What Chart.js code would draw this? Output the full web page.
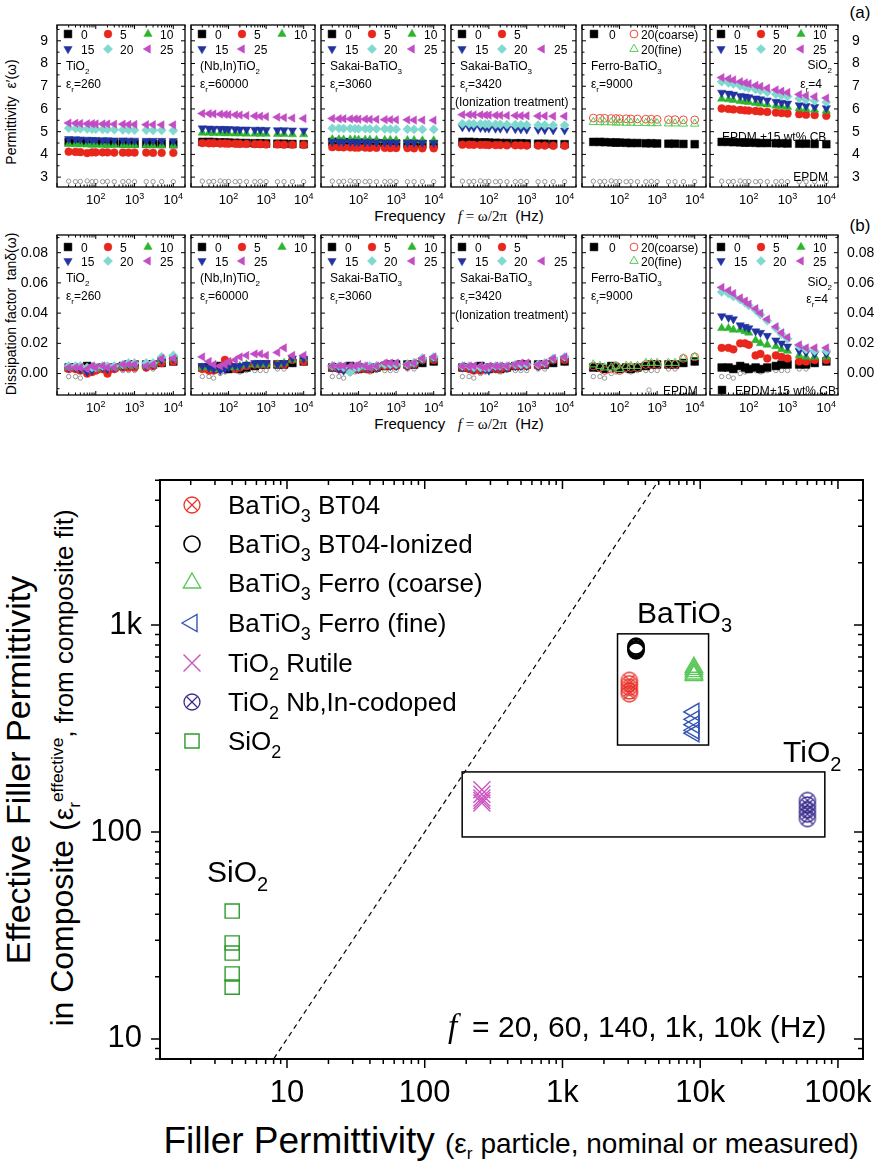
<!DOCTYPE html>
<html>
<head>
<meta charset="utf-8">
<script src="https://cdn.jsdelivr.net/npm/chart.js@4.4.1/dist/chart.umd.min.js"></script>
<style>
  html, body { margin: 0; padding: 0; background: #fff; }
  body { width: 880px; height: 1162px; position: relative; overflow: hidden; font-family: "Liberation Sans", Arial, sans-serif; color: #000; }
  canvas { position: absolute; }
  .lbl { position: absolute; white-space: nowrap; line-height: 1; }
  .rot { transform: translate(-50%, -50%) rotate(-90deg); }
  .ctr { transform: translate(-50%, -50%); }
  .it { font-family: "Liberation Serif", "Times New Roman", serif; font-style: italic; }
  .sr { font-family: "Liberation Serif", "Times New Roman", serif; }
  sub, sup { font-size: 62%; line-height: 0; }
</style>
</head>
<body>
<div class="lbl rot" style="left:11px;top:112px;font-size:14px">Permittivity&nbsp; ε′(ω)</div>
<div class="lbl rot" style="left:11px;top:314px;font-size:14px">Dissipation factor&nbsp; tanδ(ω)</div>
<div class="lbl ctr" style="left:459px;top:216px;font-size:15px">Frequency&nbsp;&nbsp; <span class="it">f</span><span class="sr"> = ω/2π</span>&nbsp;&nbsp;(Hz)</div>
<div class="lbl ctr" style="left:459px;top:424px;font-size:15px">Frequency&nbsp;&nbsp; <span class="it">f</span><span class="sr"> = ω/2π</span>&nbsp;&nbsp;(Hz)</div>
<div class="lbl ctr" style="left:860px;top:12px;font-size:17px">(a)</div>
<div class="lbl ctr" style="left:860px;top:225px;font-size:17px">(b)</div>
<div class="lbl rot" style="left:18px;top:770px;font-size:34px">Effective Filler Permittivity</div>
<div class="lbl rot" style="left:62px;top:768px;font-size:32px">in Composite (<span style="font-size:28px">ε<sub>r</sub><sup>effective</sup></span><span style="font-size:26px">, from composite fit)</span></div>
<div class="lbl ctr" style="left:511px;top:1140px;font-size:37px">Filler Permittivity <span style="font-size:28px">(ε<sub>r</sub> particle, nominal or measured)</span></div>

<script>
// ---------- top panels: frequency sweeps ----------
const freqHz = [20, 30, 40, 60, 80, 100, 150, 200, 300, 500, 700, 1000, 2000, 3000, 5000, 10000];
const freqTicks = [100, 1000, 10000];
const freqTickText = ['10^2', '10^3', '10^4'];
const permTicks = [3, 4, 5, 6, 7, 8, 9];
const lossTicks = [0, 0.02, 0.04, 0.06, 0.08];

// permittivity (a)
const epdmPerm = [2.82, 2.80, 2.81, 2.83, 2.80, 2.81, 2.80, 2.81, 2.80, 2.80, 2.81, 2.80, 2.80, 2.80, 2.80, 2.80];
const cbPerm = [4.55, 4.55, 4.54, 4.53, 4.52, 4.52, 4.51, 4.50, 4.50, 4.49, 4.49, 4.48, 4.47, 4.47, 4.46, 4.45];
const tio2Perm5 = [4.12, 4.11, 4.10, 4.06, 4.09, 4.09, 4.09, 4.09, 4.08, 4.08, 4.08, 4.08, 4.08, 4.07, 4.07, 4.07];
const tio2Perm10 = [4.45, 4.44, 4.44, 4.43, 4.42, 4.42, 4.42, 4.41, 4.41, 4.40, 4.40, 4.40, 4.40, 4.39, 4.39, 4.39];
const tio2Perm15 = [4.68, 4.67, 4.66, 4.65, 4.64, 4.64, 4.63, 4.63, 4.62, 4.62, 4.61, 4.61, 4.60, 4.60, 4.60, 4.59];
const tio2Perm20 = [5.15, 5.14, 5.13, 5.12, 5.11, 5.11, 5.10, 5.10, 5.09, 5.08, 5.08, 5.07, 5.07, 5.06, 5.06, 5.05];
const tio2Perm25 = [5.38, 5.37, 5.36, 5.35, 5.35, 5.34, 5.34, 5.34, 5.33, 5.33, 5.32, 5.32, 5.31, 5.31, 5.30, 5.30];
const nbinPerm5 = [4.50, 4.49, 4.49, 4.48, 4.48, 4.47, 4.47, 4.46, 4.46, 4.45, 4.45, 4.44, 4.44, 4.43, 4.43, 4.42];
const nbinPerm10 = [4.95, 4.95, 4.94, 4.94, 4.93, 4.93, 4.92, 4.92, 4.91, 4.91, 4.90, 4.90, 4.89, 4.89, 4.88, 4.88];
const nbinPerm15 = [5.15, 5.14, 5.13, 5.13, 5.12, 5.12, 5.11, 5.10, 5.10, 5.09, 5.09, 5.08, 5.07, 5.07, 5.06, 5.05];
const nbinPerm25 = [5.80, 5.79, 5.78, 5.77, 5.76, 5.75, 5.74, 5.73, 5.71, 5.69, 5.68, 5.66, 5.64, 5.62, 5.60, 5.58];
const sakaiPerm5 = [4.32, 4.32, 4.31, 4.31, 4.30, 4.30, 4.30, 4.29, 4.29, 4.29, 4.28, 4.28, 4.28, 4.27, 4.27, 4.27];
const sakaiPerm10 = [4.66, 4.66, 4.65, 4.65, 4.65, 4.64, 4.64, 4.64, 4.63, 4.63, 4.63, 4.62, 4.62, 4.62, 4.61, 4.61];
const sakaiPerm15 = [4.56, 4.56, 4.55, 4.55, 4.55, 4.54, 4.54, 4.54, 4.53, 4.53, 4.53, 4.52, 4.52, 4.52, 4.51, 4.51];
const sakaiPerm20 = [5.15, 5.15, 5.14, 5.14, 5.13, 5.13, 5.13, 5.12, 5.12, 5.12, 5.11, 5.11, 5.11, 5.10, 5.10, 5.10];
const sakaiPerm25 = [5.58, 5.57, 5.57, 5.56, 5.56, 5.55, 5.55, 5.54, 5.54, 5.53, 5.53, 5.52, 5.52, 5.51, 5.51, 5.50];
const ionPerm5 = [4.43, 4.43, 4.42, 4.42, 4.42, 4.41, 4.41, 4.41, 4.40, 4.40, 4.40, 4.39, 4.39, 4.39, 4.38, 4.38];
const ionPerm15 = [5.20, 5.19, 5.18, 5.17, 5.16, 5.15, 5.14, 5.14, 5.13, 5.12, 5.11, 5.10, 5.09, 5.08, 5.07, 5.06];
const ionPerm20 = [5.35, 5.35, 5.34, 5.34, 5.33, 5.33, 5.32, 5.32, 5.31, 5.31, 5.30, 5.30, 5.29, 5.29, 5.28, 5.28];
const ionPerm25 = [5.75, 5.75, 5.74, 5.74, 5.73, 5.73, 5.72, 5.72, 5.71, 5.71, 5.70, 5.70, 5.69, 5.69, 5.68, 5.68];
const ferroPermCoarse = [5.60, 5.59, 5.59, 5.58, 5.58, 5.57, 5.57, 5.56, 5.56, 5.55, 5.55, 5.54, 5.53, 5.53, 5.52, 5.52];
const ferroPermFine = [5.42, 5.42, 5.41, 5.41, 5.40, 5.40, 5.39, 5.39, 5.38, 5.38, 5.37, 5.37, 5.36, 5.36, 5.35, 5.35];
const sio2Perm5 = [6.02, 6.00, 5.98, 5.96, 5.94, 5.93, 5.91, 5.89, 5.87, 5.84, 5.82, 5.80, 5.77, 5.75, 5.73, 5.70];
const sio2Perm10 = [6.45, 6.42, 6.39, 6.35, 6.32, 6.30, 6.26, 6.23, 6.19, 6.14, 6.11, 6.08, 6.02, 5.99, 5.96, 5.92];
const sio2Perm15 = [6.72, 6.68, 6.64, 6.58, 6.55, 6.52, 6.47, 6.43, 6.38, 6.32, 6.28, 6.24, 6.17, 6.13, 6.09, 6.04];
const sio2Perm20 = [7.20, 7.15, 7.10, 7.02, 6.97, 6.93, 6.86, 6.81, 6.74, 6.65, 6.60, 6.55, 6.46, 6.41, 6.36, 6.30];
const sio2Perm25 = [7.38, 7.33, 7.28, 7.20, 7.15, 7.11, 7.04, 6.99, 6.92, 6.84, 6.78, 6.73, 6.64, 6.59, 6.54, 6.48];

// dissipation factor (b)
const epdmLoss = [-0.002, -0.002, -0.003, 0.000, 0.001, 0.002, 0.002, 0.001, 0.002, 0.002, 0.002, 0.002, 0.003, 0.003, 0.006, 0.007];
const cbLoss = [0.004, 0.004, 0.003, 0.005, 0.004, 0.003, 0.004, 0.003, 0.004, 0.005, 0.006, 0.006, 0.006, 0.006, 0.007, 0.008];
const tio2Loss5 = [0.003, 0.003, 0.002, 0.000, 0.001, 0.002, 0.003, 0.000, 0.003, 0.004, 0.004, 0.004, 0.004, 0.005, 0.007, 0.008];
const tio2Loss10 = [0.004, 0.004, 0.004, 0.002, 0.003, 0.003, 0.004, 0.004, 0.004, 0.005, 0.005, 0.005, 0.005, 0.006, 0.009, 0.010];
const tio2Loss15 = [0.004, 0.004, 0.003, 0.001, 0.002, 0.004, 0.004, 0.003, 0.004, 0.005, 0.006, 0.006, 0.005, 0.006, 0.009, 0.010];
const tio2Loss20 = [0.005, 0.005, 0.005, 0.004, 0.004, 0.004, 0.005, 0.005, 0.005, 0.006, 0.007, 0.007, 0.007, 0.007, 0.011, 0.012];
const tio2Loss25 = [0.004, 0.004, 0.004, 0.003, 0.005, 0.004, 0.005, 0.004, 0.004, 0.006, 0.006, 0.006, 0.005, 0.006, 0.010, 0.010];
const nbinLoss5 = [0.003, 0.002, 0.002, 0.004, 0.009, 0.007, 0.003, 0.004, 0.005, 0.006, 0.006, 0.006, 0.006, 0.006, 0.009, 0.008];
const nbinLoss10 = [0.004, 0.004, 0.003, 0.003, 0.004, 0.004, 0.004, 0.005, 0.006, 0.006, 0.006, 0.006, 0.006, 0.007, 0.009, 0.010];
const nbinLoss15 = [0.005, 0.004, 0.003, 0.002, 0.003, 0.004, 0.005, 0.005, 0.006, 0.007, 0.007, 0.007, 0.006, 0.007, 0.010, 0.010];
const nbinLoss25 = [0.011, 0.008, 0.006, 0.005, 0.006, 0.008, 0.009, 0.011, 0.012, 0.013, 0.013, 0.012, 0.014, 0.017, 0.012, 0.012];
const sakaiLoss5 = [0.004, 0.003, 0.003, 0.002, 0.003, 0.003, 0.003, 0.003, 0.004, 0.005, 0.005, 0.005, 0.005, 0.006, 0.009, 0.009];
const sakaiLoss10 = [0.005, 0.004, 0.004, 0.004, 0.004, 0.004, 0.004, 0.004, 0.005, 0.006, 0.006, 0.006, 0.006, 0.007, 0.010, 0.010];
const sakaiLoss15 = [0.004, 0.003, 0.002, 0.003, 0.004, 0.003, 0.004, 0.004, 0.004, 0.006, 0.005, 0.005, 0.005, 0.006, 0.009, 0.010];
const sakaiLoss20 = [0.005, 0.005, 0.004, 0.001, 0.004, 0.004, 0.005, 0.005, 0.005, 0.006, 0.006, 0.006, 0.006, 0.007, 0.010, 0.011];
const sakaiLoss25 = [0.005, 0.005, 0.005, 0.005, 0.005, 0.006, 0.005, 0.004, 0.005, 0.007, 0.007, 0.007, 0.006, 0.007, 0.010, 0.011];
const ionLoss5 = [0.004, 0.003, 0.002, 0.002, 0.003, 0.003, 0.003, 0.003, 0.004, 0.005, 0.005, 0.005, 0.005, 0.006, 0.009, 0.009];
const ionLoss15 = [0.004, 0.004, 0.003, 0.003, 0.003, 0.002, 0.004, 0.004, 0.004, 0.005, 0.005, 0.005, 0.005, 0.006, 0.009, 0.010];
const ionLoss20 = [0.005, 0.005, 0.004, 0.004, 0.004, 0.004, 0.005, 0.005, 0.005, 0.006, 0.006, 0.006, 0.006, 0.007, 0.010, 0.011];
const ionLoss25 = [0.005, 0.005, 0.005, 0.005, 0.004, 0.005, 0.005, 0.005, 0.005, 0.006, 0.007, 0.007, 0.006, 0.007, 0.010, 0.011];
const ferroLossCoarse = [0.005, 0.004, 0.002, 0.003, 0.005, 0.002, 0.004, 0.004, 0.004, 0.006, 0.006, 0.006, 0.006, 0.006, 0.010, 0.011];
const ferroLossFine = [0.006, 0.005, 0.004, 0.004, 0.005, 0.003, 0.005, 0.005, 0.005, 0.007, 0.007, 0.007, 0.007, 0.007, 0.010, 0.011];
const sio2Loss5 = [0.017, 0.017, 0.016, 0.020, 0.020, 0.019, 0.012, 0.013, 0.010, 0.012, 0.011, 0.010, 0.008, 0.008, 0.009, 0.009];
const sio2Loss10 = [0.030, 0.030, 0.029, 0.029, 0.028, 0.027, 0.022, 0.020, 0.019, 0.018, 0.016, 0.015, 0.012, 0.011, 0.011, 0.011];
const sio2Loss15 = [0.038, 0.037, 0.036, 0.032, 0.031, 0.030, 0.028, 0.027, 0.025, 0.022, 0.020, 0.018, 0.015, 0.014, 0.013, 0.013];
const sio2Loss20 = [0.054, 0.053, 0.051, 0.049, 0.047, 0.045, 0.042, 0.039, 0.035, 0.030, 0.026, 0.023, 0.018, 0.016, 0.015, 0.015];
const sio2Loss25 = [0.057, 0.055, 0.053, 0.050, 0.048, 0.046, 0.043, 0.040, 0.036, 0.031, 0.027, 0.024, 0.019, 0.017, 0.017, 0.017];

// ---------- bottom panel: effective vs nominal filler permittivity ----------
const materials = ['BaTiO_3 BT04', 'BaTiO_3 BT04-Ionized', 'BaTiO_3 Ferro (coarse)', 'BaTiO_3 Ferro (fine)', 'TiO_2 Rutile', 'TiO_2 Nb,In-codoped', 'SiO_2'];
const fillerEps = [3060, 3420, 9000, 9000, 260, 60000, 4];
const effBT04 = [540, 520, 500, 480, 465];
const effBT04Ion = [790, 780, 770, 760, 750];
const effFerroCoarse = [625, 610, 595, 580, 570];
const effFerroFine = [380, 350, 330, 310, 300];
const effRutile = [160, 152, 146, 142, 138];
const effNbIn = [142, 135, 128, 122, 116];
const effSiO2 = [41.5, 29.1, 26.0, 20.6, 17.8];
const fitFreq = ['20', '60', '140', '1k', '10k'];
const bigXTicks = [10, 100, 1000, 10000, 100000];
const bigXTickText = ['10', '100', '1k', '10k', '100k'];
const bigYTicks = [10, 100, 1000];
const bigYTickText = ['10', '100', '1k'];
const parityLine = [1, 100000];

// ---------- helpers ----------
const FONT = '"Liberation Sans", Arial, sans-serif';
const SERIF = '"Liberation Serif", "Times New Roman", serif';
Chart.defaults.font.family = FONT;
Chart.defaults.color = '#000';

function richText(ctx, str, x, y, size, align, family, style) {
  const fam = family || FONT;
  const pre = style ? style + ' ' : '';
  const parts = [];
  let buf = '';
  for (let i = 0; i < str.length; i++) {
    const c = str[i];
    if ((c === '_' || c === '^') && i + 1 < str.length) {
      if (buf) { parts.push({ t: buf, k: 0 }); buf = ''; }
      let t;
      if (str[i + 1] === '{') { const j = str.indexOf('}', i); t = str.slice(i + 2, j); i = j; }
      else { t = str[i + 1]; i++; }
      parts.push({ t: t, k: c === '_' ? 1 : 2 });
    } else buf += c;
  }
  if (buf) parts.push({ t: buf, k: 0 });
  let w = 0;
  parts.forEach(p => {
    p.f = pre + (p.k ? Math.round(size * 0.68) : size) + 'px ' + fam;
    ctx.font = p.f; p.w = ctx.measureText(p.t).width; w += p.w;
  });
  let cx = align === 'right' ? x - w : align === 'center' ? x - w / 2 : x;
  ctx.textAlign = 'left'; ctx.textBaseline = 'alphabetic';
  parts.forEach(p => {
    ctx.font = p.f;
    ctx.fillText(p.t, cx, y + (p.k === 1 ? size * 0.3 : p.k === 2 ? -size * 0.42 : 0));
    cx += p.w;
  });
}

function drawMarker(ctx, s, x, y) {
  ctx.save();
  ctx.fillStyle = s.hollow ? 'rgba(0,0,0,0)' : s.color;
  ctx.strokeStyle = s.color;
  ctx.lineWidth = s.bw;
  Chart.helpers.drawPoint(ctx, { pointStyle: s.ps, rotation: s.rot || 0, radius: s.r, borderWidth: s.bw }, x, y);
  ctx.restore();
}

function pointProps(s) {
  return { pointStyle: s.ps, pointRadius: s.r, pointRotation: s.rot || 0,
    pointBackgroundColor: s.hollow ? 'rgba(0,0,0,0)' : s.color,
    pointBorderColor: s.color, pointBorderWidth: s.bw, showLine: false };
}

function logVals(lo, hi) {
  const major = [], minor = [];
  for (let e = Math.floor(Math.log10(lo)); e <= Math.ceil(Math.log10(hi)); e++) {
    for (let m = 1; m < 10; m++) {
      const v = m * Math.pow(10, e);
      if (v < lo || v > hi) continue;
      (m === 1 ? major : minor).push(v);
    }
  }
  return { major: major, minor: minor };
}

function linVals(majors, lo, hi) {
  const step = majors[1] - majors[0], minor = [];
  for (let k = -1; k < majors.length; k++) {
    const v = majors[0] + (k + 0.5) * step;
    if (v > lo && v < hi) minor.push(v);
  }
  return { major: majors, minor: minor };
}

function makeOX(color, r) {
  const c = document.createElement('canvas');
  const s = Math.ceil(2 * r + 4);
  c.width = c.height = s;
  const g = c.getContext('2d');
  g.strokeStyle = color; g.lineWidth = 1.3;
  g.beginPath(); g.arc(s / 2, s / 2, r, 0, Math.PI * 2); g.stroke();
  const d = r * 0.72;
  g.beginPath();
  g.moveTo(s / 2 - d, s / 2 - d); g.lineTo(s / 2 + d, s / 2 + d);
  g.moveTo(s / 2 + d, s / 2 - d); g.lineTo(s / 2 - d, s / 2 + d);
  g.stroke();
  return c;
}

// frame, tick marks, legends and labels drawn on top of each chart
const DECOR = new Map();
Chart.register({
  id: 'decor',
  afterDatasetsDraw(chart) {
    const cfg = DECOR.get(chart.canvas);
    if (!cfg) return;
    const ctx = chart.ctx, a = chart.chartArea, xs = chart.scales.x, ys = chart.scales.y;
    ctx.save();
    ctx.strokeStyle = '#000';
    (cfg.boxes || []).forEach(b => {
      const x0 = xs.getPixelForValue(b.x[0]), x1 = xs.getPixelForValue(b.x[1]);
      const y0 = ys.getPixelForValue(b.y[1]), y1 = ys.getPixelForValue(b.y[0]);
      ctx.lineWidth = 1.5;
      ctx.strokeRect(x0, y0, x1 - x0, y1 - y0);
    });
    const t = cfg.ticks, inward = t.mode === 'in';
    ctx.lineWidth = t.lw;
    ctx.beginPath();
    [[t.x.major, t.maj], [t.x.minor, t.min]].forEach(([vals, len]) => vals.forEach(v => {
      const px = xs.getPixelForValue(v);
      ctx.moveTo(px, a.bottom); ctx.lineTo(px, a.bottom + (inward ? -len : len));
      ctx.moveTo(px, a.top); ctx.lineTo(px, a.top + len);
    }));
    [[t.y.major, t.maj], [t.y.minor, t.min]].forEach(([vals, len]) => vals.forEach(v => {
      const py = ys.getPixelForValue(v);
      ctx.moveTo(a.left, py); ctx.lineTo(a.left + (inward ? len : -len), py);
      ctx.moveTo(a.right, py); ctx.lineTo(a.right - len, py);
    }));
    ctx.stroke();
    ctx.lineWidth = cfg.frame;
    ctx.strokeRect(a.left, a.top, a.right - a.left, a.bottom - a.top);
    ctx.fillStyle = '#000';
    (cfg.xLabels || []).forEach(l => {
      richText(ctx, l.text, xs.getPixelForValue(l.value), a.bottom + cfg.xLabelDy, cfg.xLabelSize, 'center');
    });
    (cfg.legend || []).forEach(it => {
      drawMarker(ctx, it.style, a.left + it.mx, a.top + it.my);
      ctx.fillStyle = '#000';
      richText(ctx, it.text, a.left + it.tx, a.top + it.my + it.dy, it.size, 'left');
    });
    (cfg.texts || []).forEach(s => {
      ctx.fillStyle = '#000';
      const x = s.align === 'right' ? a.right - s.x : a.left + s.x;
      richText(ctx, s.text, x, a.top + s.y, s.size, s.align || 'left', s.family, s.style);
    });
    ctx.restore();
  }
});

// ---------- small panels ----------
const SMALL = {
  '0':   { ps: 'rect', r: 5.5, color: '#000000', bw: 0.5 },
  '5':   { ps: 'circle', r: 3.9, color: '#e8261c', bw: 0.5 },
  '10':  { ps: 'triangle', r: 4.8, color: '#2db52d', bw: 0.5 },
  '15':  { ps: 'triangle', rot: 180, r: 4.8, color: '#2233a0', bw: 0.5 },
  '20':  { ps: 'rectRot', r: 4.6, color: '#7fd9cf', bw: 0.5 },
  '25':  { ps: 'triangle', rot: 270, r: 4.8, color: '#c24cc4', bw: 0.5 },
  '20(coarse)': { ps: 'circle', r: 3.9, color: '#ee4a40', bw: 1, hollow: true },
  '20(fine)':   { ps: 'triangle', r: 4.8, color: '#55cc55', bw: 1, hollow: true },
  'EPDM': { ps: 'circle', r: 2.2, color: '#808080', bw: 0.8, hollow: true }
};

const panelDefs = [
  { name: 'TiO_2', eps: 'ε_r=260', slots: ['0', '5', '10', '15', '20', '25'],
    perm: { '5': tio2Perm5, '10': tio2Perm10, '15': tio2Perm15, '20': tio2Perm20, '25': tio2Perm25 },
    loss: { '5': tio2Loss5, '10': tio2Loss10, '15': tio2Loss15, '20': tio2Loss20, '25': tio2Loss25 } },
  { name: '(Nb,In)TiO_2', eps: 'ε_r=60000', slots: ['0', '5', '10', '15', '25', null],
    perm: { '5': nbinPerm5, '10': nbinPerm10, '15': nbinPerm15, '25': nbinPerm25 },
    loss: { '5': nbinLoss5, '10': nbinLoss10, '15': nbinLoss15, '25': nbinLoss25 } },
  { name: 'Sakai-BaTiO_3', eps: 'ε_r=3060', slots: ['0', '5', '10', '15', '20', '25'],
    perm: { '5': sakaiPerm5, '10': sakaiPerm10, '15': sakaiPerm15, '20': sakaiPerm20, '25': sakaiPerm25 },
    loss: { '5': sakaiLoss5, '10': sakaiLoss10, '15': sakaiLoss15, '20': sakaiLoss20, '25': sakaiLoss25 } },
  { name: 'Sakai-BaTiO_3', eps: 'ε_r=3420', note: '(Ionization treatment)', slots: ['0', '5', null, '15', '20', '25'],
    perm: { '5': ionPerm5, '15': ionPerm15, '20': ionPerm20, '25': ionPerm25 },
    loss: { '5': ionLoss5, '15': ionLoss15, '20': ionLoss20, '25': ionLoss25 } },
  { name: 'Ferro-BaTiO_3', eps: 'ε_r=9000', ferro: true,
    perm: { '20(coarse)': ferroPermCoarse, '20(fine)': ferroPermFine },
    loss: { '20(coarse)': ferroLossCoarse, '20(fine)': ferroLossFine } },
  { name: 'SiO_2', eps: 'ε_r=4', right: true, slots: ['0', '5', '10', '15', '20', '25'],
    perm: { '5': sio2Perm5, '10': sio2Perm10, '15': sio2Perm15, '20': sio2Perm20, '25': sio2Perm25 },
    loss: { '5': sio2Loss5, '10': sio2Loss10, '15': sio2Loss15, '20': sio2Loss20, '25': sio2Loss25 } }
];

const EDGES = [57, 187, 317, 447, 578, 708, 838];
const xTickMarks = logVals(10, 20000);

function smallDataset(key, arr, ord) {
  return Object.assign({ label: key, data: freqHz.map((f, j) => ({ x: f, y: arr[j] })), order: ord }, pointProps(SMALL[key]));
}

function smallPanel(row, i, p) {
  const isA = row === 'a';
  const L = EDGES[i], R = EDGES[i + 1];
  const top = isA ? 23 : 233, bot = isA ? 187 : 395;
  const padL = i === 0 ? 46 : 4, padR = i === 5 ? 42 : 4, padT = 4, padB = 26;
  const cv = document.createElement('canvas');
  cv.width = R - L + padL + padR; cv.height = bot - top + padT + padB;
  cv.style.left = (L - padL) + 'px'; cv.style.top = (top - padT) + 'px';
  document.body.appendChild(cv);

  const yMin = isA ? 2.565 : -0.0142, yMax = isA ? 9.696 : 0.0917;
  const yTicks = isA ? permTicks : lossTicks;
  const src = isA ? p.perm : p.loss;
  const datasets = [smallDataset('EPDM', isA ? epdmPerm : epdmLoss, 100), smallDataset('0', isA ? cbPerm : cbLoss, 50)];
  Object.keys(src).forEach((k, j) => datasets.push(smallDataset(k, src[k], 40 - j)));

  // legend + labels
  const rowsY = isA ? [9, 24] : [12, 26];
  const colM = [11, 51, 91], colT = [24, 63, 103];
  const legend = [];
  if (p.ferro) {
    legend.push({ key: '0', mx: 12, tx: 27, row: 0 }, { key: '20(coarse)', mx: 52, tx: 59, row: 0 }, { key: '20(fine)', mx: 52, tx: 59, row: 1 });
  } else {
    p.slots.forEach((k, j) => { if (k) legend.push({ key: k, mx: colM[j % 3], tx: colT[j % 3], row: Math.floor(j / 3) }); });
  }
  const legendItems = legend.map(l => ({ style: SMALL[l.key], mx: l.mx, my: rowsY[l.row], tx: l.tx, dy: 4.5, size: 12, text: l.key }));
  const texts = [];
  if (p.right) {
    texts.push({ text: p.name, x: 6, y: isA ? 44 : 51, size: 12, align: 'right' });
    texts.push({ text: p.eps, x: isA ? 16 : 10, y: isA ? 63 : 68, size: 12, align: 'right' });
    if (isA) {
      texts.push({ text: 'EPDM +15 wt% CB', x: 12, y: 116, size: 12 });
      texts.push({ text: 'EPDM', x: 10, y: 156, size: 12, align: 'right' });
    } else {
      legendItems.push({ style: SMALL['0'], mx: 12, my: 155, tx: 25, dy: 4.5, size: 12, text: 'EPDM+15 wt% CB' });
    }
  } else {
    texts.push({ text: p.name, x: 9, y: isA ? 45 : 47, size: 12 });
    texts.push({ text: p.eps, x: 9, y: isA ? 63 : 65, size: 12 });
    if (p.note) texts.push({ text: p.note, x: 4, y: isA ? 81 : 84, size: 12 });
    if (p.ferro && !isA) legendItems.push({ style: SMALL.EPDM, mx: 67, my: 155, tx: 81, dy: 4.5, size: 12, text: 'EPDM' });
  }

  DECOR.set(cv, {
    ticks: { mode: 'in', lw: 1, maj: 4, min: 2.5, x: xTickMarks, y: linVals(yTicks, yMin, yMax) },
    frame: 1.3,
    xLabels: freqTicks.map((v, j) => ({ value: v, text: freqTickText[j] })),
    xLabelDy: 17, xLabelSize: 13,
    legend: legendItems,
    texts: texts
  });

  const showY = i === 0 || i === 5;
  new Chart(cv, {
    type: 'scatter',
    data: { datasets: datasets },
    options: {
      responsive: false, animation: false, events: [],
      layout: { padding: { top: padT, bottom: 0, left: i === 0 ? 0 : padL, right: i === 5 ? 0 : padR } },
      plugins: { legend: { display: false }, tooltip: { enabled: false } },
      scales: {
        x: {
          type: 'logarithmic', min: 10, max: 20000, position: 'bottom',
          grid: { display: false, drawTicks: false }, border: { display: false },
          ticks: { display: false },
          afterFit: s => { s.height = padB; s.paddingLeft = 0; s.paddingRight = 0; }
        },
        y: {
          type: 'linear', min: yMin, max: yMax, position: i === 5 ? 'right' : 'left', display: showY,
          grid: { display: false, drawTicks: false }, border: { display: false },
          ticks: {
            font: { size: 14 }, color: '#000',
            padding: i === 5 ? (isA ? 14 : 9) : 9,
            callback: v => isA ? String(v) : v.toFixed(2)
          },
          afterBuildTicks: s => { s.ticks = yTicks.map(v => ({ value: v })); },
          afterFit: s => { s.width = i === 0 ? padL : padR; s.paddingTop = 0; s.paddingBottom = 0; }
        }
      }
    }
  });
}

['a', 'b'].forEach(row => panelDefs.forEach((p, i) => smallPanel(row, i, p)));

// ---------- big panel ----------
const BIG = [
  { ps: makeOX('#e8322a', 8), r: 8, color: '#e8322a', bw: 1.3 },
  { ps: 'circle', r: 8, color: '#000000', bw: 1.6, hollow: true },
  { ps: 'triangle', r: 10, color: '#5ac85a', bw: 1.4, hollow: true },
  { ps: 'triangle', rot: 270, r: 10, color: '#3555b5', bw: 1.4, hollow: true },
  { ps: 'crossRot', r: 12, color: '#cc55c0', bw: 1.4 },
  { ps: makeOX('#3a2c8e', 8), r: 8, color: '#3a2c8e', bw: 1.3 },
  { ps: 'rect', r: 10, color: '#2e9a2e', bw: 1.4, hollow: true }
];
const effAll = [effBT04, effBT04Ion, effFerroCoarse, effFerroFine, effRutile, effNbIn, effSiO2];

const bigCv = document.createElement('canvas');
bigCv.width = 880; bigCv.height = 700;
bigCv.style.left = '0px'; bigCv.style.top = '460px';
document.body.appendChild(bigCv);

const bigDatasets = effAll.map((arr, i) => Object.assign({
  label: materials[i], data: arr.map(v => ({ x: fillerEps[i], y: v })), order: 1
}, pointProps(BIG[i])));
bigDatasets.push({
  label: 'parity', data: parityLine.map(v => ({ x: v, y: v })), showLine: true,
  borderColor: '#000', borderWidth: 1.2, borderDash: [5, 4], pointRadius: 0, order: 10
});

const legendRows = [25, 64, 103, 143, 183, 222, 261];
DECOR.set(bigCv, {
  boxes: [{ x: [2510, 11500], y: [263, 906] }, { x: [187, 80300], y: [94.6, 195] }],
  ticks: { mode: 'out', lw: 1.5, maj: 9, min: 5, x: logVals(1.197, 1.52e5), y: logVals(8.0, 5017) },
  frame: 2,
  legend: materials.map((m, i) => ({ style: BIG[i], mx: 32, my: legendRows[i], tx: 68, dy: 9, size: 26, text: m })),
  texts: [
    { text: 'BaTiO_3', x: 477, y: 143, size: 30 },
    { text: 'TiO_2', x: 623, y: 282, size: 30 },
    { text: 'SiO_2', x: 47, y: 402, size: 30 },
    { text: 'f', x: 288, y: 557, size: 33, family: SERIF, style: 'italic' },
    { text: '=', x: 312, y: 557, size: 30 },
    { text: fitFreq.join(', ') + ' (Hz)', x: 338, y: 557, size: 30 }
  ]
});

new Chart(bigCv, {
  type: 'scatter',
  data: { datasets: bigDatasets },
  options: {
    responsive: false, animation: false, events: [],
    layout: { padding: { top: 20, right: 17, left: 0, bottom: 0 } },
    plugins: { legend: { display: false }, tooltip: { enabled: false } },
    scales: {
      x: {
        type: 'logarithmic', min: 1.197, max: 1.52e5, position: 'bottom',
        grid: { display: false, drawTicks: false }, border: { display: false },
        ticks: { font: { size: 31 }, color: '#000', padding: 16, autoSkip: false, maxRotation: 0,
          callback: v => bigXTickText[bigXTicks.indexOf(v)] },
        afterBuildTicks: s => { s.ticks = bigXTicks.map(v => ({ value: v })); },
        afterFit: s => { s.height = 101; s.paddingLeft = 0; s.paddingRight = 0; }
      },
      y: {
        type: 'logarithmic', min: 8.0, max: 5017, position: 'left',
        grid: { display: false, drawTicks: false }, border: { display: false },
        ticks: { font: { size: 31 }, color: '#000', padding: 18, autoSkip: false,
          callback: v => bigYTickText[bigYTicks.indexOf(v)] },
        afterBuildTicks: s => { s.ticks = bigYTicks.map(v => ({ value: v })); },
        afterFit: s => { s.width = 160; s.paddingTop = 0; s.paddingBottom = 0; }
      }
    }
  }
});
</script>
</body>
</html>
